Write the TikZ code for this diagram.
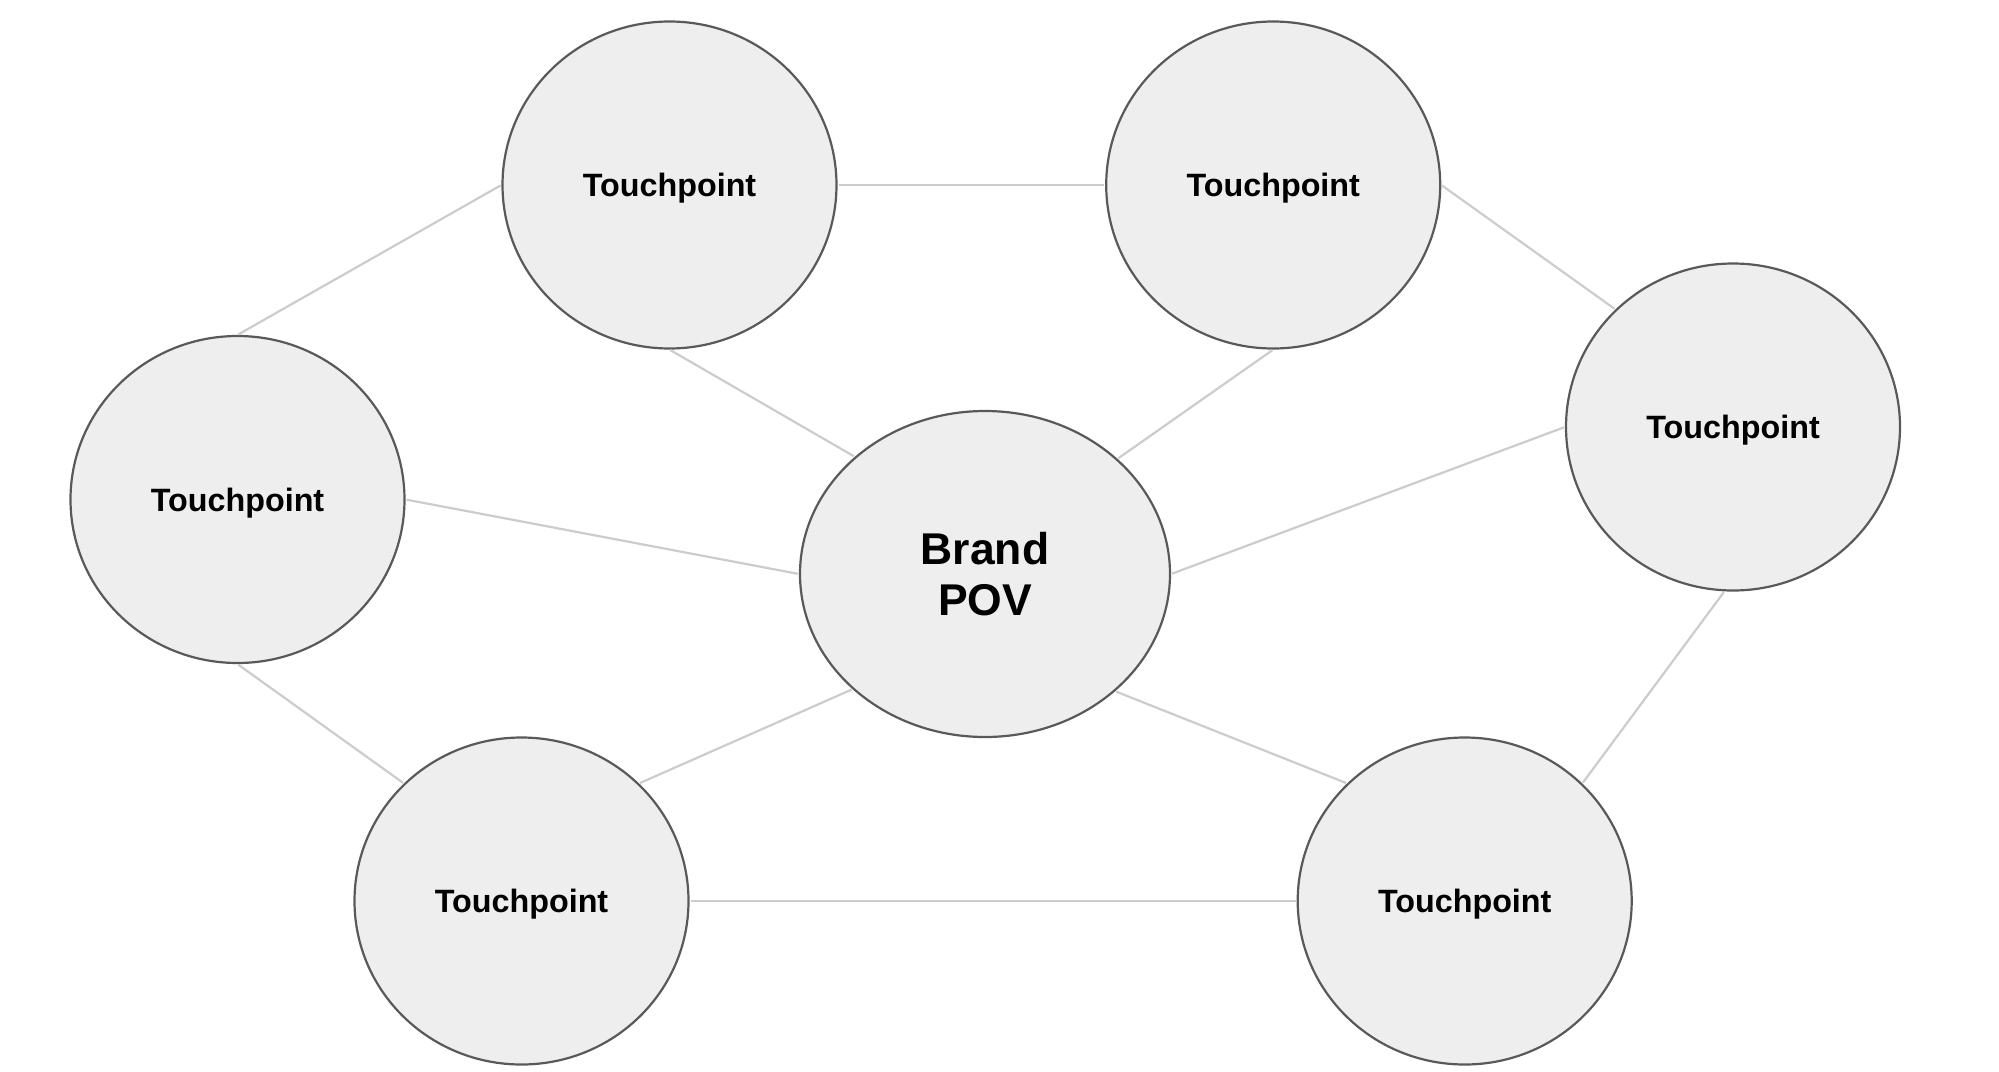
\documentclass[tikz,border=0pt]{standalone}
\usepackage{fontspec}
\setmainfont{Liberation Sans}
\usetikzlibrary{positioning, shapes.geometric}
\definecolor{bubble}{HTML}{EEEEEE}
\definecolor{rim}{HTML}{595959}
\definecolor{wire}{HTML}{CCCCCC}
\tikzset{
  x = 1pt, y = 1pt,
  touchpoint/.style = {draw = rim, fill = bubble, ellipse, line width = 2.2pt,
    inner sep = 0pt, minimum width = 334pt, minimum height = 327pt,
    text depth = 0pt, align = center,
    font = \fontsize{32.3}{38}\selectfont\bfseries},
  brand/.style = {touchpoint, minimum width = 370pt, minimum height = 326pt,
    font = \fontsize{44.5}{51.7}\selectfont\bfseries},
  link/.style = {draw = wire, line width = 2.2pt, shorten > = 1pt, shorten < = 1pt}
}

\begin{document}
\begin{tikzpicture}
\useasboundingbox (0,0) rectangle (1999,-1071);

%% Centre
\node [brand] (pov) at (985,-574) {Brand\\POV};

%% Touchpoints
\node [touchpoint] (tl) at (669.5,-185) {Touchpoint};
\node [touchpoint] (tr) [right = 267.5pt of tl] {Touchpoint};
\node [touchpoint] (r) at (1733,-427) {Touchpoint};
\node [touchpoint] (l) at (237.5,-499.5) {Touchpoint};
\node [touchpoint] (bl) at (521.5,-901) {Touchpoint};
\node [touchpoint] (br) [right = 607pt of bl] {Touchpoint};

%% Outer ring
\path [link] (tl.west) edge (l.north);
\path [link] (tl.east) edge (tr.west);
\path [link] (tr.east) edge (r.135);
\path [link] (l.south) edge (bl.135);
\path [link] (bl.east) edge (br.west);
\path [link] (r.267) edge (br.45);

%% Spokes
\path [link] (tl.south) edge (pov.138.6);
\path [link] (tr.south) edge (pov.41.4);
\path [link] (r.west) edge (pov.east);
\path [link] (l.east) edge (pov.west);
\path [link] (bl.45) edge (pov.221.4);
\path [link] (pov.318.6) edge (br.135);

\end{tikzpicture}
\end{document}
